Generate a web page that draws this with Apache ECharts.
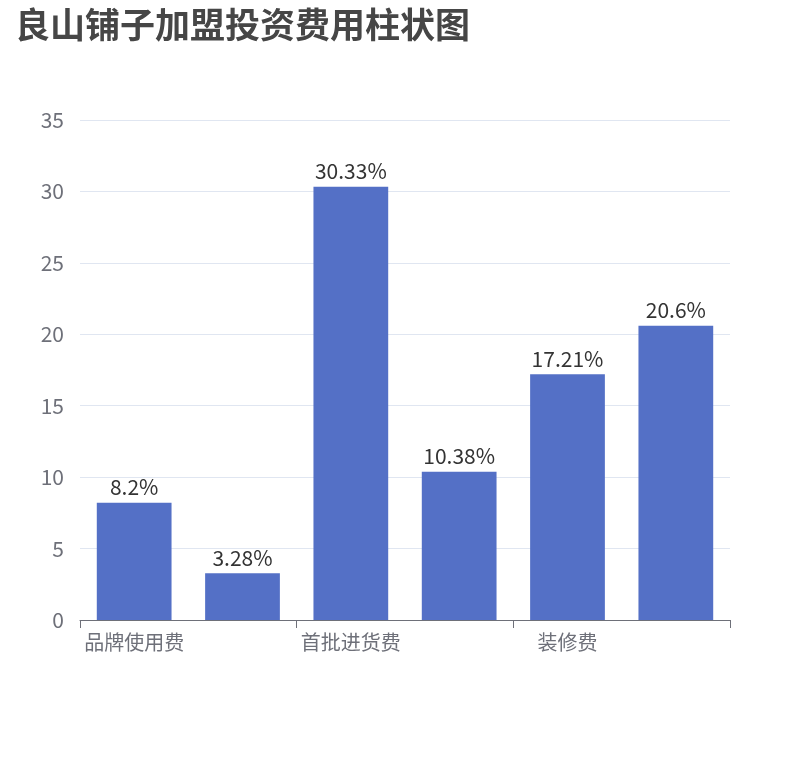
<!DOCTYPE html>
<html><head><meta charset="utf-8">
<script src="https://cdn.jsdelivr.net/npm/echarts@6/dist/echarts.min.js"></script>
<style>html,body{margin:0;padding:0;background:#fff}#c{width:810px;height:760px}</style>
</head><body><div id="c"></div>
<script>
const categories = ['品牌使用费','保证金','首批进货费','设备费','装修费','其他费用'];
const values = [8.2, 3.28, 30.33, 10.38, 17.21, 20.6];
const yTicks = {min:0, max:35, interval:5};
const F = 'Noto Sans CJK SC';
const chart = echarts.init(document.getElementById('c'));
chart.setOption({
  textStyle:{fontFamily:F},
  title:{text:'良山铺子加盟投资费用柱状图',left:10,top:2,textStyle:{fontSize:35,fontWeight:'bold',color:'#464646',fontFamily:F}},
  grid:{left:80,right:80,top:120,bottom:140},
  xAxis:{type:'category',data:categories,
    axisLabel:{interval:1,fontSize:20,color:'#6e7079',fontFamily:F,margin:12},
    axisTick:{show:true,interval:1,length:8,lineStyle:{color:'#6e7079'}},axisLine:{show:true,lineStyle:{color:'#6e7079'}}},
  yAxis:{type:'value',min:yTicks.min,max:yTicks.max,interval:yTicks.interval,
    axisLabel:{fontSize:21,color:'#6e7079',margin:16,fontFamily:F},splitLine:{lineStyle:{color:'#e0e6f1'}}},
  series:[{type:'bar',data:values,barWidth:'69%',itemStyle:{color:'#5470c6'},
    label:{show:true,position:'top',fontSize:21,color:'#333',fontFamily:F,formatter:p=>p.value+'%'}}]
});
</script></body></html>
